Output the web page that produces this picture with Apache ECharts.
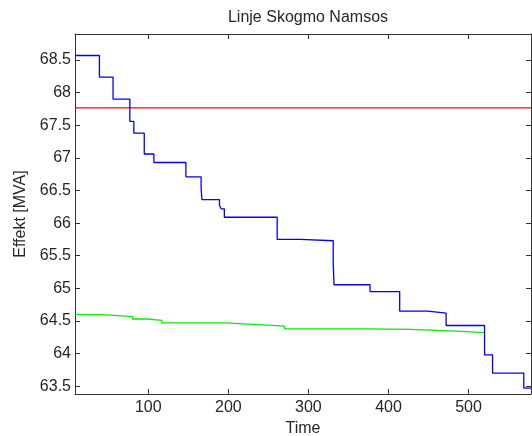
<!DOCTYPE html>
<html>
<head>
<meta charset="utf-8">
<script src="https://cdn.jsdelivr.net/npm/echarts@6/dist/echarts.min.js"></script>
<style>
html,body{margin:0;padding:0;background:#fff;}
#c{width:532px;height:436px;}
</style>
</head>
<body>
<div id="c"></div>
<script>
const titleText = 'Linje Skogmo Namsos';
const xName = 'Time';
const yName = 'Effekt [MVA]';
const xTicks = [100, 200, 300, 400, 500];
const yTicks = [63.5, 64, 64.5, 65, 65.5, 66, 66.5, 67, 67.5, 68, 68.5];
const xRange = [8.5, 578];
const yRange = [63.38, 68.9];

// step series: [time, value] pairs, value holds until next time
const blueSteps = [
  [8.5, 68.57], [39, 68.24], [56, 67.9], [77, 67.56], [82, 67.38], [95, 67.06],
  [107, 66.93], [147, 66.71], [166, 66.53], [167, 66.36], [189, 66.27], [191, 66.22],
  [195, 66.09], [261, 65.75], [290, 65.73], [331, 65.38], [332, 65.055], [377, 64.95],
  [414, 64.65], [449, 64.62], [472, 64.43], [520, 63.98], [530, 63.7], [569, 63.47],
  [578, 63.47]
];
const greenSteps = [
  [8.5, 64.597], [42.5, 64.567], [80.5, 64.53], [99, 64.51], [117, 64.47], [195, 64.44],
  [243, 64.42], [270, 64.38], [372, 64.37], [428, 64.34], [491, 64.32], [520, 64.32]
];
const redLine = [[8.5, 67.766], [578, 67.766]];

const font = 'Liberation Sans, Arial, Helvetica, sans-serif';
const txt = '#262626';
const axCol = '#333333';

function xAx(pos, show) {
  return {
    type: 'value', position: pos, min: xRange[0], max: xRange[1],
    name: show ? xName : '', nameLocation: 'middle', nameGap: 26,
    nameTextStyle: {fontSize: 16, color: txt, fontFamily: font},
    axisLine: {show: true, onZero: false, lineStyle: {color: axCol, width: 1}},
    axisTick: {show: true, inside: true, length: 5, customValues: xTicks, lineStyle: {color: axCol, width: 1}},
    axisLabel: {show: true, customValues: xTicks, fontSize: 16, color: txt, fontFamily: font, margin: 6,
      formatter: show ? undefined : function () { return ''; }},
    splitLine: {show: false}
  };
}
function yAx(pos, show) {
  return {
    type: 'value', position: pos, min: yRange[0], max: yRange[1],
    name: show ? yName : '', nameLocation: 'middle', nameGap: 41, nameRotate: 90,
    nameTextStyle: {fontSize: 16, color: txt, fontFamily: font},
    axisLine: {show: true, onZero: false, lineStyle: {color: axCol, width: 1}},
    axisTick: {show: true, inside: true, length: 5, customValues: yTicks, lineStyle: {color: axCol, width: 1}},
    axisLabel: {show: true, customValues: yTicks, fontSize: 16, color: txt, fontFamily: font, margin: 4,
      formatter: show ? undefined : function () { return ''; }},
    splitLine: {show: false}
  };
}

const chart = echarts.init(document.getElementById('c'), null, {renderer: 'canvas'});
chart.setOption({
  backgroundColor: '#fff',
  animation: false,
  title: {
    text: titleText, left: 303, top: 5, textAlign: 'center',
    textStyle: {fontSize: 16, fontWeight: 'normal', color: txt, fontFamily: font}
  },
  grid: {left: 75, right: 1, top: 34, bottom: 42, containLabel: false, outerBoundsMode: 'none'},
  xAxis: [xAx('bottom', true), xAx('top', false)],
  yAxis: [yAx('left', true), yAx('right', false)],
  series: [
    {type: 'line', data: redLine, showSymbol: false, lineStyle: {color: '#ff0000', width: 1.2}, z: 3},
    {type: 'line', data: greenSteps, step: 'end', showSymbol: false, lineStyle: {color: '#00ee00', width: 1.3}, z: 3},
    {type: 'line', data: blueSteps, step: 'end', showSymbol: false, lineStyle: {color: '#0000ff', width: 1.3}, z: 4}
  ]
});
</script>
</body>
</html>
